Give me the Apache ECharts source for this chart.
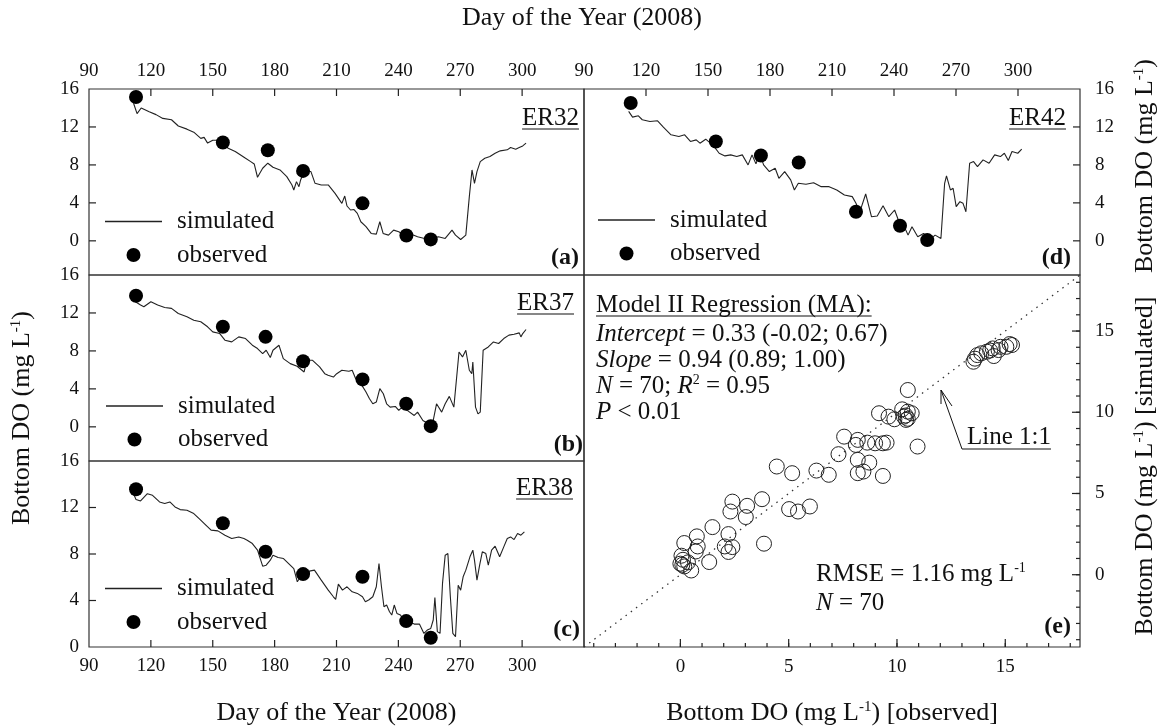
<!DOCTYPE html>
<html><head><meta charset="utf-8">
<script src="https://cdn.jsdelivr.net/npm/echarts@6/dist/echarts.min.js"></script>
<style>html,body{margin:0;padding:0;background:#fff}#c{width:1163px;height:728px}</style>
</head><body><div id="c"></div>
<script>
// ---------------- DATA ----------------
const dayLabels = [90,120,150,180,210,240,270,300];
const dayTicks = [120,150,180,210,240,270,300];
const doLabels = [0,4,8,12,16];
const doTicks = [0,4,8,12];
const scatLabels = [0,5,10,15];
const scatMinor = [-4,-3,-2,-1,0,1,2,3,4,5,6,7,8,9,10,11,12,13,14,15,16,17,18];
const oneToOne = [-4.45, 18.45];

// ER32 (a)
const obsA_days = [112.8,154.9,176.7,193.8,222.6,243.9,255.7];
const obsA_vals = [15.16,10.36,9.55,7.37,3.95,0.57,0.15];
const simA_days = [111.6,113.3,115.3,119.2,122.5,125.8,130,133.3,137.5,140.8,144.2,145.8,147.5,150,152.5,157.5,160.9,165.9,168.4,170.1,171.7,174.2,176.7,179.2,182.6,185.9,188.4,189.3,190.6,191.8,192.6,194.3,197.6,199.6,202.6,206,209.3,212.6,214,215.1,216.8,218.5,220.1,221.8,224.3,226.8,229.3,231,232.6,235.2,237.7,240.2,242.7,246,249.3,252.7,256,259.4,262.7,266,267.7,270.2,272.7,274.4,275.7,276.9,278.1,279.7,281.9,284.4,286.9,289.4,292.8,294.4,296.9,298.6,300.3,301.9];
const simA_vals = [14.5,13.4,14.0,13.6,13.3,12.9,12.76,12.1,11.77,11.45,10.8,10.9,10.3,10.6,10.6,9.76,9.41,8.7,8.35,8.1,6.7,7.65,8.18,7.75,7.47,6.77,5.89,5.36,6.24,5.71,6.42,7.3,7.3,6.06,5.89,5.89,5.0,3.95,4.72,3.67,3.25,3.3,2.89,2.01,1.49,0.78,0.71,2.01,0.78,0.6,1.13,0.96,0.6,0.71,0.43,0.25,0.25,0.43,0.25,1.13,0.6,0.14,0.6,4.66,7.47,6.06,7.3,8.35,8.7,8.88,9.23,9.48,9.59,9.83,9.66,9.83,10.0,10.29];

// ER37 (b)
const obsB_days = [112.8,154.9,175.6,193.8,222.6,243.8,255.7];
const obsB_vals = [13.82,10.54,9.48,6.91,5.0,2.43,0.07];
const simB_days = [112.5,115,116.6,120,123.3,126.7,130,133.3,137.5,140.8,144.2,147.5,150,153.4,155.9,159.2,162.6,165.9,169.2,171.7,174.2,175.9,177.9,179.2,182.1,184.2,187.6,190.9,194.3,195.6,198.4,201.8,204.3,205.9,208.5,210.1,212.6,216,217.6,219.3,221.8,224.3,226,227.6,229.3,231,232.7,234.3,236,238.5,240.2,241.8,244.3,247.7,249.3,251.9,254.4,256.9,258.5,261,262.7,264.7,266.9,269.4,271.1,272.7,274.4,275.6,276.1,277.4,278.6,279.7,281.1,283.6,286.1,288.6,291.1,293.6,296.1,298.6,299.4,300.3,301.9];
const simB_vals = [13.18,12.83,12.65,13.18,12.83,12.58,12.48,11.95,11.59,11.24,11.07,10.54,10.01,9.83,9.13,8.95,9.48,9.3,8.6,8.25,7.72,8.07,7.3,8.07,8.6,7.19,6.66,6.38,5.78,7.01,7.01,6.31,5.6,5.43,5.25,5.6,5.96,5.85,5.96,5.07,4.55,3.67,2.96,2.43,2.61,4.02,3.49,2.43,2.08,2.15,1.73,2.08,1.73,1.2,1.55,0.67,0.32,0.67,2.43,1.55,2.43,3.21,2.08,7.89,7.37,8.07,5.96,5.6,6.84,2.08,1.37,1.55,8.07,8.42,8.95,8.78,9.3,9.66,9.76,9.9,9.48,9.83,10.26];

// ER38 (c)
const obsC_days = [112.8,154.9,175.6,193.8,222.6,243.8,255.7];
const obsC_vals = [13.57,10.65,8.19,6.27,6.04,2.23,0.8];
const simC_days = [111.6,112.8,115,115.8,118.3,120.8,124.2,126.7,129.2,131.7,134.2,137.5,140.8,143.4,145.9,149.2,152.5,155.9,159.2,162.6,165.1,166.7,169.2,171.7,174.2,175.9,177.9,179.2,181.7,184.3,186.8,189.3,191,192.6,194.6,196.8,199.3,202.6,206,208.5,209.6,210.9,212.9,215.1,217.6,220.1,222.6,224,225.6,227.6,229.3,230.6,231.8,233,234.3,235.7,236.8,238,239.3,241,242.7,245.2,247.7,250.2,252.4,254,255.7,256.9,257.7,258.9,260.2,261.4,262.7,264,265.2,266.4,267.7,269,270.2,271.4,272.7,274.7,276.1,276.9,278.1,279.4,280.7,282.4,283.6,285.2,286.9,289.1,291.1,292.8,294.4,296.1,297.8,299.4,301.1];
const simC_vals = [13.19,12.68,12.56,12.62,13.19,13.05,12.48,12.34,12.48,12.05,11.82,11.76,11.48,11.05,10.62,10.05,9.99,9.62,9.33,9.47,9.33,9.19,8.9,8.33,6.95,7.04,7.47,7.9,7.7,7.61,7.18,6.75,5.61,6.04,5.9,6.53,6.61,5.75,4.89,4.32,4.09,5.41,4.89,5.18,4.75,4.61,4.32,3.89,4.04,4.32,5.18,7.18,5.18,3.46,3.61,3.03,2.75,3.61,2.89,2.75,2.32,2.18,1.97,1.97,1.17,1.46,1.6,2.32,4.26,1.32,1.17,5.47,7.9,8.04,4.32,1.17,0.89,5.32,4.89,6.04,6.61,7.76,8.33,7.47,5.75,7.04,8.19,8.04,7.04,8.33,8.67,7.76,8.61,9.33,9.47,9.24,9.76,9.62,9.9];

// ER42 (d)
const obsD_days = [112.6,153.8,175.6,193.9,221.6,242.9,256.1];
const obsD_vals = [14.52,10.47,8.99,8.25,3.07,1.59,0.08];
const simD_days = [111.6,113.5,116.3,118.2,121.9,125.6,128.4,132.1,135.9,138.7,141.5,144.3,146.1,148.9,152.7,155.4,158.2,161,163.9,166.6,169.4,171.3,173.2,175,176.9,179.7,182.5,184.3,187.1,190,191.8,193.7,197.4,201.1,204.8,208.6,212.3,216,219.8,221.6,223.5,226.3,229.1,231.9,234.7,237.5,240.3,242.1,245,246.8,248.7,251.5,254.3,257.1,259.9,262.7,264.5,265.4,267.3,268.6,270.1,271.9,273.4,274.8,276.6,278.5,280.4,283.1,286,288.7,291.5,293.4,295.3,297.1,299.9,301.8];
const simD_vals = [13.64,13.04,13.18,12.76,12.58,12.65,11.98,11.17,11.0,11.17,10.47,10.64,10.29,10.71,10.0,9.23,8.95,9.06,8.88,9.06,8.0,9.06,8.11,9.23,8.0,7.3,7.65,6.59,7.3,6.42,5.36,6.06,5.96,6.13,5.71,5.71,5.36,4.83,4.66,3.95,3.07,4.94,2.54,2.61,3.7,2.54,3.25,2.19,1.49,0.6,1.49,0.43,0.78,0.07,0.6,0.25,6.06,6.84,5.36,5.54,3.6,4.13,3.95,3.07,8.18,8.35,7.82,8.53,8.18,9.06,8.88,9.23,8.46,9.41,9.23,9.66];

// (e) observed (x) vs simulated (y)
const obsE = [13.53,13.71,13.89,14.15,14.42,14.47,14.69,14.78,15.05,15.31,13.6,14.3,15.2,
  10.5,10.24,10.5,10.68,10.42,10.32,9.17,9.61,9.88,10.95,7.56,8.19,8.63,8.1,8.99,9.35,9.52,7.3,8.19,8.72,4.45,5.16,6.28,6.85,8.19,8.45,9.35,10.4,10.5,
  2.4,3.08,3.77,2.31,3.02,5.02,5.43,5.98,1.48,2.22,0.76,0.18,0.8,2.05,2.4,2.22,0.71,3.86,1.33,0.05,0.12,0.09,0.18,0.5,0.35,0.0];
const simE = [13.11,13.52,13.63,13.73,13.93,13.46,13.83,14.03,14.03,14.14,13.3,13.8,14.2,
  11.37,10.18,10.04,9.94,9.53,9.73,9.94,9.73,9.57,7.89,8.5,8.3,8.13,7.99,8.09,8.09,8.13,7.42,7.07,6.9,6.66,6.25,6.41,6.15,6.25,6.35,6.08,9.8,9.6,
  4.5,4.24,4.65,3.89,3.55,4.04,3.89,4.2,2.93,2.5,2.36,1.95,1.74,1.74,1.7,1.4,1.43,1.91,0.78,1.17,0.92,0.61,0.51,0.26,0.76,0.68];

// ---------------- CHART ----------------
const FONT = '"Liberation Serif", "Times New Roman", serif';
const INK = '#111';
const AX = '#333';
function zip(a, b) { const n = Math.min(a.length, b.length); const r = []; for (let i = 0; i < n; i++) r.push([a[i], b[i]]); return r; }
const mctx = document.createElement('canvas').getContext('2d');
function tw(t, size, weight) { mctx.font = (weight || '') + ' ' + size + 'px ' + FONT; return mctx.measureText(t).width; }

const tickLbl = { fontFamily: FONT, fontSize: 19, color: INK };
function dayAxis(grid, pos, show) {
  return { type: 'value', gridIndex: grid, position: pos, min: 90, max: 330, interval: 30,
    axisLine: { show: false, onZero: false }, splitLine: { show: false }, axisTick: { show: false },
    axisLabel: Object.assign({ show: show, customValues: dayLabels, margin: pos === 'top' ? 8 : 10 }, tickLbl) };
}
function doAxis(grid, pos, min) {
  return { type: 'value', gridIndex: grid, position: pos, min: min, max: 16,
    axisLine: { show: false, onZero: false }, splitLine: { show: false }, axisTick: { show: false },
    axisLabel: Object.assign({ customValues: doLabels, margin: pos === 'left' ? 10 : 15 }, tickLbl) };
}
function scatAxis(grid, pos) {
  return { type: 'value', gridIndex: grid, position: pos, min: oneToOne[0], max: oneToOne[1],
    axisLine: { show: false, onZero: false }, splitLine: { show: false }, axisTick: { show: false },
    axisLabel: Object.assign({ customValues: scatLabels, margin: pos === 'right' ? 15 : 11 }, tickLbl) };
}

const gridBase = { show: true, borderColor: AX, borderWidth: 1.2, backgroundColor: 'rgba(0,0,0,0)', containLabel: false };
const grids = [
  Object.assign({ left: 89, top: 89, width: 495, height: 186 }, gridBase),   // a
  Object.assign({ left: 584, top: 89, width: 496, height: 186 }, gridBase),  // d
  Object.assign({ left: 89, top: 275, width: 495, height: 186 }, gridBase),  // b
  Object.assign({ left: 89, top: 461, width: 495, height: 186 }, gridBase),  // c
  Object.assign({ left: 584, top: 275, width: 496, height: 372 }, gridBase)  // e
];

function simSeries(ax, days, vals) {
  return { name: 'simulated', type: 'line', xAxisIndex: ax, yAxisIndex: ax, data: zip(days, vals),
    symbol: 'none', showSymbol: false, lineStyle: { color: '#222', width: 1.1 }, itemStyle: { color: '#222' }, z: 2 };
}
function obsSeries(ax, days, vals) {
  return { name: 'observed', type: 'scatter', xAxisIndex: ax, yAxisIndex: ax, data: zip(days, vals),
    symbol: 'circle', symbolSize: 14, itemStyle: { color: '#000', opacity: 1 }, z: 3 };
}
// tick marks as custom series: positions come from the axes' own scales (api.coord)
function tickSeries(ax, pts, len, dx, dy) {
  return { name: 'ticks', type: 'custom', xAxisIndex: ax, yAxisIndex: ax, silent: true, clip: false, z: 6, data: pts,
    renderItem: function (params, api) {
      const p = api.coord([api.value(0), api.value(1)]);
      return { type: 'line', shape: { x1: p[0], y1: p[1], x2: p[0] + dx * len, y2: p[1] + dy * len },
        style: { stroke: '#222', lineWidth: 1.2 } };
    } };
}
function atY(vals, y) { return vals.map(function (v) { return [v, y]; }); }
function atX(vals, x) { return vals.map(function (v) { return [x, v]; }); }

const LINE_ICON = 'path://M0,0L100,0L100,2.2L0,2.2Z';
function legend(left, top) {
  return { left: left, top: top, orient: 'vertical', padding: 0, itemGap: 8.5, itemWidth: 57, itemHeight: 14,
    selectedMode: false, symbolKeepAspect: true,
    data: [{ name: 'simulated', icon: LINE_ICON }, { name: 'observed', icon: 'circle' }],
    itemStyle: { opacity: 1 },
    textStyle: { fontFamily: FONT, fontSize: 25, color: INK, lineHeight: 25, padding: [0, 0, 0, 10] } };
}

const rich = {
  s: { fontFamily: FONT, fontSize: 14, verticalAlign: 'top', fill: INK, color: INK },
  i: { fontFamily: FONT, fontStyle: 'italic', fontSize: 25, color: INK }
};
const richT = {
  s: { fontFamily: FONT, fontSize: 15, verticalAlign: 'top', fill: INK, color: INK }
};
function T(x, y, text, o) {
  o = o || {};
  return { type: 'text', x: x, y: y, rotation: o.rot || 0, silent: true,
    style: { text: text, fill: INK, fontFamily: FONT, fontSize: o.size || 26, fontWeight: o.bold ? 'bold' : 'normal',
      align: o.align || 'left', verticalAlign: 'middle', rich: o.rich } };
}
function U(x1, x2, y) { return { type: 'line', silent: true, shape: { x1: x1, y1: y, x2: x2, y2: y }, style: { stroke: INK, lineWidth: 1.2 } }; }
function ER(label, right, y) { const w = tw(label, 25); return [T(right, y, label, { size: 25, align: 'right' }), U(right - w, right, y + 11)]; }

const graphics = [].concat(
  [T(582, 18, 'Day of the Year (2008)', { align: 'center' }),
   T(336.5, 713, 'Day of the Year (2008)', { align: 'center' }),
   T(832, 713, 'Bottom DO (mg L{s|-1}) [observed]', { align: 'center', rich: richT }),
   T(22, 418, 'Bottom DO (mg L{s|-1})', { align: 'center', rot: Math.PI / 2, rich: richT }),
   T(1145, 166, 'Bottom DO (mg L{s|-1})', { align: 'center', rot: Math.PI / 2, rich: richT }),
   T(1145, 466, 'Bottom DO (mg L{s|-1}) [simulated]', { align: 'center', rot: Math.PI / 2, rich: richT })],
  ER('ER32', 579, 118), ER('ER42', 1066, 118), ER('ER37', 574, 303), ER('ER38', 573, 488),
  [T(579, 258, '(a)', { size: 24, bold: true, align: 'right' }),
   T(1071, 258, '(d)', { size: 24, bold: true, align: 'right' }),
   T(583, 445, '(b)', { size: 24, bold: true, align: 'right' }),
   T(580, 630, '(c)', { size: 24, bold: true, align: 'right' }),
   T(1071, 627, '(e)', { size: 24, bold: true, align: 'right' })],
  [T(596, 305, 'Model II Regression (MA):', { size: 25 }),
   U(596, 596 + tw('Model II Regression (MA):', 25), 316),
   T(596, 334, '{i|Intercept} = 0.33 (-0.02; 0.67)', { size: 25, rich: rich }),
   T(596, 360, '{i|Slope} = 0.94 (0.89; 1.00)', { size: 25, rich: rich }),
   T(596, 386, '{i|N} = 70; {i|R}{s|2} = 0.95', { size: 25, rich: rich }),
   T(596, 412, '{i|P} < 0.01', { size: 25, rich: rich }),
   T(967, 437, 'Line 1:1', { size: 25 }),
   U(962, 967 + tw('Line 1:1', 25), 449),
   { type: 'polyline', silent: true, shape: { points: [[962, 449], [941, 390]] }, style: { stroke: INK, lineWidth: 1, fill: null } },
   { type: 'polyline', silent: true, shape: { points: [[941, 404], [941, 390], [952, 406]] }, style: { stroke: INK, lineWidth: 1, fill: null } },
   T(816, 574, 'RMSE = 1.16 mg L{s|-1}', { size: 25, rich: rich }),
   T(816, 603, '{i|N} = 70', { size: 25, rich: rich })]
);

const option = {
  animation: false,
  backgroundColor: '#fff',
  grid: grids,
  xAxis: [dayAxis(0, 'top', true), dayAxis(1, 'top', true), dayAxis(2, 'bottom', false), dayAxis(3, 'bottom', true),
          scatAxis(4, 'bottom')],
  yAxis: [doAxis(0, 'left', -3.6), doAxis(1, 'right', -3.6), doAxis(2, 'left', -3.6), doAxis(3, 'left', 0),
          scatAxis(4, 'right')],
  legend: [legend(105, 209), legend(598, 207.5), legend(106, 393.5), legend(105, 576)],
  series: [
    simSeries(0, simA_days, simA_vals), obsSeries(0, obsA_days, obsA_vals),
    simSeries(1, simD_days, simD_vals), obsSeries(1, obsD_days, obsD_vals),
    simSeries(2, simB_days, simB_vals), obsSeries(2, obsB_days, obsB_vals),
    simSeries(3, simC_days, simC_vals), obsSeries(3, obsC_days, obsC_vals),
    { name: 'Line 1:1', type: 'line', xAxisIndex: 4, yAxisIndex: 4, data: zip(oneToOne, oneToOne), symbol: 'none',
      lineStyle: { color: '#333', width: 1.3, type: [1.5, 5] }, z: 1 },
    { name: 'pairs', type: 'scatter', xAxisIndex: 4, yAxisIndex: 4, data: zip(obsE, simE), symbol: 'circle', symbolSize: 15,
      itemStyle: { color: 'rgba(0,0,0,0)', borderColor: '#222', borderWidth: 1, opacity: 1 }, z: 3 },
    // axis ticks (inside)
    tickSeries(0, atY(dayTicks, 16), 7, 0, 1),
    tickSeries(0, atX(doTicks, 90), 7, 1, 0),
    tickSeries(1, atY(dayTicks, 16), 7, 0, 1),
    tickSeries(1, atX(doTicks, 330), 7, -1, 0),
    tickSeries(2, atX(doTicks, 90), 7, 1, 0),
    tickSeries(3, atY(dayTicks, 0), 7, 0, -1),
    tickSeries(3, atX(doTicks.slice(1), 90), 7, 1, 0),
    tickSeries(4, atY(scatMinor, oneToOne[0]), 4, 0, -1),
    tickSeries(4, atY(scatLabels, oneToOne[0]), 8, 0, -1),
    tickSeries(4, atX(scatMinor, oneToOne[1]), 4, -1, 0),
    tickSeries(4, atX(scatLabels, oneToOne[1]), 8, -1, 0)
  ],
  graphic: graphics
};
const chart = echarts.init(document.getElementById('c'), null, { renderer: 'canvas' });
chart.setOption(option);
</script></body></html>
